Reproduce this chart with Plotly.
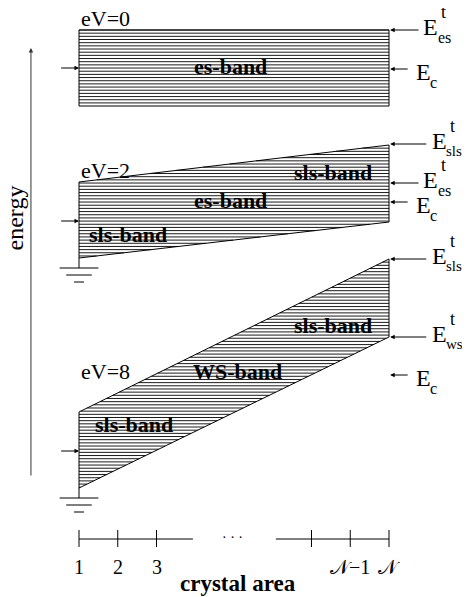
import plotly.graph_objects as go

# ---------------- data ----------------
bias_labels = ["eV=0", "eV=2", "eV=8"]
N_POS = 9                                  # plotted position of crystal area N
left_top = [567, 415, 185]                 # band upper edge at area 1
left_bot = [491, 339, 109]                 # band lower edge at area 1
right_top = [567, 452, 338]                # band upper edge at area N
right_bot = [491, 375, 260]                # band lower edge at area N
contact_level = [529, 376, 146]            # left contact arrows
grounded = [False, True, True]

arrow_E = [567, 528, 453, 414, 395, 338, 260, 222]
arrow_sub = ["es", "c", "sls", "es", "c", "sls", "ws", "c"]
arrow_sup = ["t", "", "t", "t", "", "t", "t", ""]

band_names = ["es-band", "sls-band", "es-band", "sls-band", "sls-band", "WS-band", "sls-band"]
band_name_x = [4.90, 7.56, 4.92, 2.26, 7.56, 5.10, 2.42]
band_name_E = [531, 425, 397, 363, 272, 226, 173]

tick_pos = [1, 2, 3, 7, 8, 9]
tick_text = ["1", "2", "3", "", "𝒩−1", "𝒩"]
axis_segments = [(1, 3.94), (6.08, 9)]
AXIS_E = 58

# ---------------- geometry helpers ----------------
PX = 38.75          # px per crystal unit
OFF = 8             # page body margin of the html page
W, H = 470 - OFF, 597 - OFF
x_range = [1 - (79 - OFF) / PX, 1 + (470 - 79) / PX]
y_range = [597 - (OFF + H), 597 - OFF]
SERIF = "Liberation Serif, Times New Roman, serif"
HATCH = 3.17


def interval(a, b):
    # t in [0,1] where a + b t >= 0
    if abs(b) < 1e-12:
        return (0.0, 1.0) if a >= 0 else None
    r = -a / b
    return (max(0.0, r), 1.0) if b > 0 else (0.0, min(1.0, r))


def hatch(lt, lb, rt, rb, x0=1.0, x1=N_POS):
    xs, ys = [], []
    e = max(lt, rt)
    emin = min(lb, rb)
    while e >= emin - 1e-9:
        i1 = interval(lt - e, rt - lt)          # top(t) - e >= 0
        i2 = interval(e - lb, -(rb - lb))       # e - bot(t) >= 0
        if i1 and i2:
            t0, t1 = max(i1[0], i2[0]), min(i1[1], i2[1])
            if t1 > t0:
                xs += [x0 + t0 * (x1 - x0), x0 + t1 * (x1 - x0), None]
                ys += [e, e, None]
        e -= HATCH
    return xs, ys


fig = go.Figure()
annotations = []

for k in range(3):
    hx, hy = hatch(left_top[k], left_bot[k], right_top[k], right_bot[k])
    fig.add_trace(go.Scatter(x=hx, y=hy, mode="lines",
                             line=dict(color="black", width=0.9), hoverinfo="skip"))
    fig.add_trace(go.Scatter(
        x=[1, N_POS, N_POS, 1, 1],
        y=[left_top[k], right_top[k], right_bot[k], left_bot[k], left_top[k]],
        mode="lines", line=dict(color="black", width=1), hoverinfo="skip"))
    # left contact arrow
    annotations.append(dict(x=1, y=contact_level[k], ax=0.5, ay=contact_level[k],
                            xref="x", yref="y", axref="x", ayref="y", text="",
                            showarrow=True, arrowhead=2, arrowsize=0.9, arrowwidth=1,
                            arrowcolor="black"))
    # bias label
    annotations.append(dict(x=1.0, y=left_top[k] + 12 if k < 2 else 226,
                            xref="x", yref="y", text=bias_labels[k],
                            showarrow=False, xanchor="left", yanchor="middle",
                            font=dict(family=SERIF, size=22, color="black")))
    if grounded[k]:
        gb = left_bot[k] - 10
        gx, gy = [1, 1, None], [left_bot[k], gb, None]
        for off, hw in [(0, 0.5), (7, 0.33), (14, 0.13)]:
            gx += [1 - hw, 1 + hw, None]
            gy += [gb - off, gb - off, None]
        fig.add_trace(go.Scatter(x=gx, y=gy, mode="lines",
                                 line=dict(color="black", width=1), hoverinfo="skip"))

# band names
for name, bx, be in zip(band_names, band_name_x, band_name_E):
    annotations.append(dict(x=bx, y=be, xref="x", yref="y", text="<b>%s</b>" % name,
                            showarrow=False, xanchor="center", yanchor="middle",
                            font=dict(family=SERIF, size=22, color="black")))

# right-side level arrows and labels
for e, sub, sup in zip(arrow_E, arrow_sub, arrow_sup):
    if sup:
        tail = 9.80 if sub == "es" else 10.0
        lx = 9.83 if sub == "es" else 10.06
        ey = e + 3
    else:
        tail = 9.52
        lx = 9.64
        ey = e - 3
    annotations.append(dict(x=N_POS + 0.03, y=e, ax=tail, ay=e, xref="x", yref="y",
                            axref="x", ayref="y", text="", showarrow=True,
                            arrowhead=2, arrowsize=0.9, arrowwidth=1, arrowcolor="black"))
    annotations.append(dict(x=lx, y=ey, xref="x", yref="y", text="E",
                            showarrow=False, xanchor="left", yanchor="middle",
                            font=dict(family=SERIF, size=24, color="black")))
    annotations.append(dict(x=lx + 0.37, y=ey - 10, xref="x", yref="y", text=sub,
                            showarrow=False, xanchor="left", yanchor="middle",
                            font=dict(family=SERIF, size=16 if sub in ("es", "c") else 15,
                                      color="black")))
    if sup:
        annotations.append(dict(x=lx + 0.46, y=ey + 15, xref="x", yref="y", text=sup,
                                showarrow=False, xanchor="left", yanchor="middle",
                                font=dict(family=SERIF, size=18, color="black")))

# energy arrow
annotations.append(dict(x=-0.24, y=549, ax=-0.24, ay=120, xref="x", yref="y",
                        axref="x", ayref="y", text="", showarrow=True, arrowhead=2,
                        arrowsize=0.9, arrowwidth=1, arrowcolor="#333"))
annotations.append(dict(x=-0.64, y=379, xref="x", yref="y", text="energy",
                        showarrow=False, textangle=-90, xanchor="center", yanchor="middle",
                        font=dict(family=SERIF, size=24, color="black")))

# crystal-area axis
axx, axy = [], []
for a, b in axis_segments:
    axx += [a, b, None]
    axy += [AXIS_E, AXIS_E, None]
for t in tick_pos:
    axx += [t, t, None]
    axy += [AXIS_E - 8, AXIS_E + 9, None]
fig.add_trace(go.Scatter(x=axx, y=axy, mode="lines",
                         line=dict(color="black", width=1), hoverinfo="skip"))
annotations.append(dict(x=4.97, y=AXIS_E + 2, xref="x", yref="y", text="· · ·",
                        showarrow=False, font=dict(family=SERIF, size=14, color="black")))
for t, txt in zip(tick_pos, tick_text):
    if txt:
        annotations.append(dict(x=t, y=30, xref="x", yref="y", text=txt, showarrow=False,
                                xanchor="center", yanchor="middle",
                                font=dict(family=SERIF, size=20, color="black")))
annotations.append(dict(x=5.1, y=14, xref="x", yref="y", text="<b>crystal area</b>",
                        showarrow=False, xanchor="center", yanchor="middle",
                        font=dict(family=SERIF, size=23, color="black")))

fig.update_layout(
    width=W, height=H, margin=dict(l=0, r=0, t=0, b=0),
    paper_bgcolor="white", plot_bgcolor="white", showlegend=False,
    xaxis=dict(range=x_range, visible=False, fixedrange=True),
    yaxis=dict(range=y_range, visible=False, fixedrange=True),
    annotations=annotations,
)
fig.write_html("out.html")
